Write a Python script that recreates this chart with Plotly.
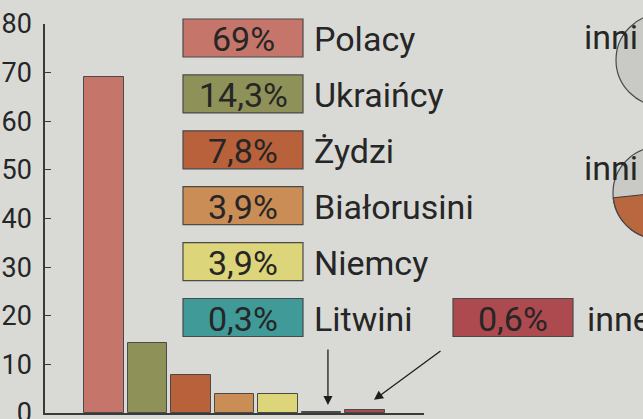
import numpy as np
import plotly.graph_objects as go

# Population structure by nationality (%)
categories = ["Polacy", "Ukraińcy", "Żydzi", "Białorusini", "Niemcy", "Litwini", "inne"]
shares = [69, 14.3, 7.8, 3.9, 3.9, 0.3, 0.6]
colors = ["#c6756b", "#8f9258", "#b9613b", "#cb8d56", "#ddd579", "#3f9a98", "#ad4a4f"]
y_ticks = [0, 10, 20, 30, 40, 50, 60, 70, 80]
pie_label = "inni"

W, H = 643, 419
ML, MR, MT, MB = 45, 219, 24, 6
PW, PH = W - ML - MR, H - MT - MB
BG = "#d9dad6"
INK = "#262626"
EDGE = "#4a4a4a"
FONT = "Roboto, sans-serif"


def px(x):
    return (x - ML) / PW


def py(y):
    return (H - MB - y) / PH


def pct(v):
    return f"{v}".replace(".", ",") + "%"


fig = go.Figure()
fig.add_trace(go.Bar(
    x=list(range(len(categories))),
    y=shares,
    width=0.91,
    marker=dict(color=colors, line=dict(color=EDGE, width=1)),
    hoverinfo="skip",
    showlegend=False,
))

shapes = []
annotations = []

# Value boxes with labels
box_x0, box_x1 = 183, 303
row_top, row_step, box_h = 19, 55.9, 38
for i, (name, val, col) in enumerate(zip(categories, shares, colors)):
    if name == "inne":
        top = row_top + 5 * row_step
        bx0, bx1, lx = 453, 573, 585
    else:
        top = row_top + i * row_step
        bx0, bx1, lx = box_x0, box_x1, 312
    shapes.append(dict(type="rect", xref="paper", yref="paper",
                       x0=px(bx0), x1=px(bx1), y0=py(top + box_h), y1=py(top),
                       fillcolor=col, line=dict(color=EDGE, width=1.2), layer="above"))
    cy = py(top + box_h / 2 + 1)
    annotations.append(dict(xref="paper", yref="paper", x=px((bx0 + bx1) / 2), y=cy,
                            text=pct(val), showarrow=False, xanchor="center", yanchor="middle",
                            font=dict(family=FONT, size=34, color=INK)))
    annotations.append(dict(xref="paper", yref="paper", x=px(lx), y=cy,
                            text=name, showarrow=False, xanchor="left", yanchor="middle",
                            font=dict(family=FONT, size=34, color=INK)))

# Pointer arrows to the smallest bars
annotations.append(dict(x=5.15, y=shares[5] + 1.35, xref="x", yref="y", ax=0, ay=-57,
                        text="", showarrow=True, arrowhead=2, arrowsize=1.4, arrowwidth=1.3,
                        arrowcolor="#1e1e1e", standoff=0))
annotations.append(dict(x=6.21, y=shares[6] + 2.1, xref="x", yref="y", ax=68, ay=-50,
                        text="", showarrow=True, arrowhead=2, arrowsize=1.4, arrowwidth=1.3,
                        arrowcolor="#1e1e1e", standoff=0))


# Neighbouring pie charts at the right edge
def circle(cx, cy, r, **kw):
    return dict(type="circle", xref="paper", yref="paper",
                x0=px(cx - r), x1=px(cx + r), y0=py(cy + r), y1=py(cy - r), **kw)


def sector(cx, cy, r, a0, a1, n=60):
    # angles in screen space (y pointing down)
    ang = np.radians(np.linspace(a0, a1, n))
    xs = cx + r * np.cos(ang)
    ys = cy + r * np.sin(ang)
    d = f"M {px(cx)},{py(cy)} " + " ".join(f"L {px(a)},{py(b)}" for a, b in zip(xs, ys)) + " Z"
    return d


for yb in (52, 183):
    annotations.append(dict(xref="paper", yref="paper", x=px(582), y=py(yb),
                            text=pie_label, showarrow=False, xanchor="left", yanchor="bottom",
                            yshift=-7, font=dict(family=FONT, size=34, color=INK)))

for (cx, cy, r, slice_) in [(662, 60, 46, None), (659, 193, 46, (20, 174))]:
    shapes.append(circle(cx, cy, r, fillcolor="#c9cac6", line=dict(width=0), layer="above"))
    if slice_:
        shapes.append(dict(type="path", xref="paper", yref="paper",
                           path=sector(cx, cy, r, *slice_), fillcolor="#b9673f",
                           line=dict(color="#3a3a3a", width=1), layer="above"))
    shapes.append(circle(cx, cy, r, fillcolor="rgba(0,0,0,0)",
                         line=dict(color="#4a4a4a", width=1.2), layer="above"))

fig.update_layout(
    width=W, height=H,
    margin=dict(l=ML, r=MR, t=MT, b=MB, pad=0, autoexpand=False),
    paper_bgcolor=BG, plot_bgcolor=BG,
    bargap=0, showlegend=False,
    shapes=shapes, annotations=annotations,
    xaxis=dict(range=[-1.36, 7.36], showgrid=False, zeroline=False, automargin=False,
               showline=True, linecolor="#3a3a3a", linewidth=1.5,
               tickvals=[7.36], ticktext=[""], ticks="inside", ticklen=10,
               tickcolor="#3a3a3a", tickwidth=1.5, fixedrange=True),
    yaxis=dict(range=[0, 80], tickvals=y_ticks, showgrid=False, zeroline=False, automargin=False,
               showline=True, linecolor="#3a3a3a", linewidth=1.5,
               ticks="inside", ticklen=6, tickcolor="#3a3a3a", tickwidth=1.2,
               ticklabelstandoff=6, ticklabeloverflow="allow",
               tickfont=dict(family=FONT, size=27, color=INK), fixedrange=True),
)

fig.write_html("out.html")
